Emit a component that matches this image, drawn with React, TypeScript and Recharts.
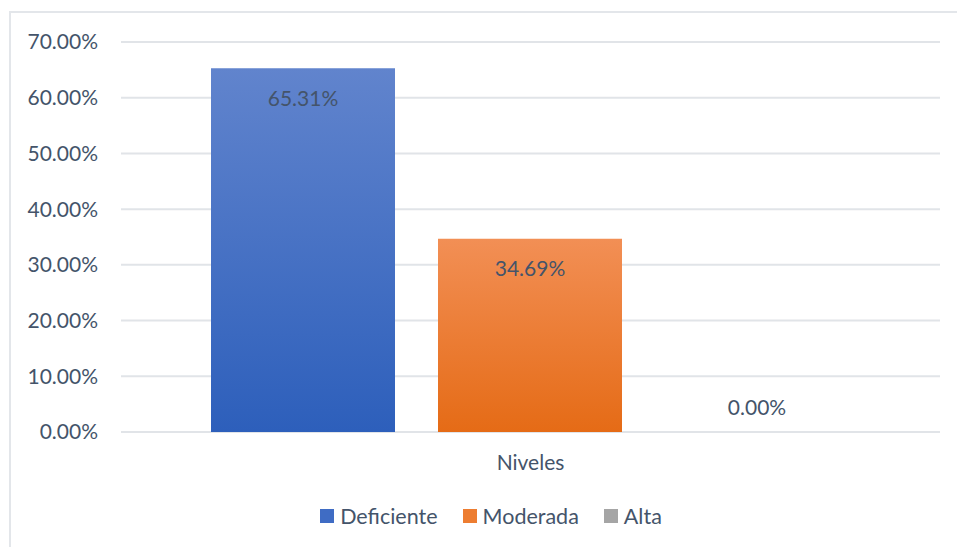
import React from "react"
import { BarChart, Bar, XAxis, YAxis, CartesianGrid, Legend, Cell } from "recharts"

const categories = ["Niveles"]
const deficiente = [0.6531]
const moderada = [0.3469]
const alta = [0]
const yTicks = [0, 0.1, 0.2, 0.3, 0.4, 0.5, 0.6, 0.7]

const data = categories.map((name, i) => ({
  name,
  Deficiente: deficiente[i],
  Moderada: moderada[i],
  Alta: alta[i],
}))

const TEXT = "#44546a"
const FONT = "Lato, 'Open Sans', sans-serif"

const pct = (v: number) => `${(v * 100).toFixed(2)}%`

const legendItems = [
  { label: "Deficiente", color: "#3f6cc4" },
  { label: "Moderada", color: "#ed7d31" },
  { label: "Alta", color: "#a5a5a5" },
]

// Excel keeps a zero bar's label just above the axis
const zeroMin = (v: any) => (Number(v) === 0 ? 1 : 0)

function BarLabel(props: any) {
  const { x, y, width, height, value } = props
  const v = Number(value) || 0
  const cy = v === 0 ? y + (height || 0) - 26 : y + 29
  return (
    <text
      x={x + width / 2}
      y={cy}
      textAnchor="middle"
      dominantBaseline="central"
      fill={TEXT}
      fontSize={21}
      fontFamily={FONT}
    >
      {pct(v)}
    </text>
  )
}

function LegendContent() {
  return (
    <div
      style={{
        display: "flex",
        justifyContent: "center",
        paddingTop: 26,
        paddingLeft: 42,
        fontFamily: FONT,
        fontSize: 21.5,
        color: TEXT,
        gap: 25,
      }}
    >
      {legendItems.map((it) => (
        <div key={it.label} style={{ display: "flex", alignItems: "center" }}>
          <span style={{ width: 14, height: 14, background: it.color, marginRight: 6 }} />
          <span>{it.label}</span>
        </div>
      ))}
    </div>
  )
}

export default function App() {
  return (
    <div style={{ position: "absolute", left: 0, top: 0, width: 957, height: 547, background: "#fff", overflow: "hidden" }}>
      <div
        style={{
          position: "absolute",
          left: 9,
          top: 11,
          width: 1000,
          height: 600,
          borderLeft: "2px solid #e3e6ea",
          borderTop: "2px solid #e3e6ea",
        }}
      />
      <BarChart
        width={957}
        height={547}
        data={data}
        margin={{ top: 42, right: 17, bottom: 0, left: 0 }}
        barGap={43}
        barCategoryGap={90}
        style={{ position: "absolute", left: 0, top: 0 }}
      >
        <defs>
          <linearGradient id="gBlue" x1="0" y1="0" x2="0" y2="1">
            <stop offset="0%" stopColor="#6184cd" />
            <stop offset="100%" stopColor="#2d5fbb" />
          </linearGradient>
          <linearGradient id="gOrange" x1="0" y1="0" x2="0" y2="1">
            <stop offset="0%" stopColor="#f28f55" />
            <stop offset="100%" stopColor="#e56b16" />
          </linearGradient>
        </defs>
        <CartesianGrid vertical={false} stroke="#e1e4e8" strokeWidth={2} />
        <XAxis
          dataKey="name"
          axisLine={false}
          tickLine={false}
          tickSize={0}
          tickMargin={23}
          height={45}
          tick={{ fill: TEXT, fontSize: 21, fontFamily: FONT }}
        />
        <YAxis
          domain={[0, 0.7]}
          ticks={yTicks}
          tickFormatter={pct}
          axisLine={false}
          tickLine={false}
          tickSize={0}
          tickMargin={23}
          width={121}
          tick={{ fill: TEXT, fontSize: 21, fontFamily: FONT }}
        />
        <Legend verticalAlign="bottom" height={70} content={<LegendContent />} />
        <Bar dataKey="Deficiente" fill="url(#gBlue)" isAnimationActive={false} label={<BarLabel />} />
        <Bar dataKey="Moderada" fill="url(#gOrange)" isAnimationActive={false} label={<BarLabel />} />
        <Bar dataKey="Alta" fill="#a5a5a5" minPointSize={zeroMin} isAnimationActive={false} label={<BarLabel />}>
          {alta.map((v, i) => (
            <Cell key={i} fill={v === 0 ? "transparent" : "#a5a5a5"} />
          ))}
        </Bar>
      </BarChart>
    </div>
  )
}
